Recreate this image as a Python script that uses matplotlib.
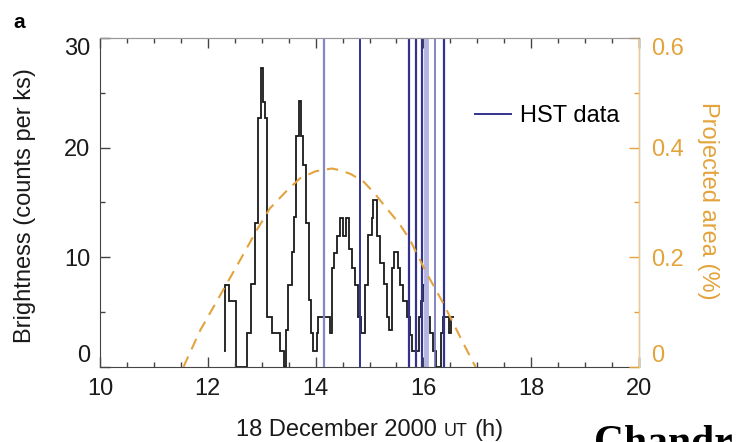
import matplotlib
matplotlib.use("Agg")
import matplotlib.pyplot as plt
from matplotlib.lines import Line2D
from matplotlib.ticker import MultipleLocator, FixedLocator
from matplotlib.offsetbox import TextArea, HPacker, AnchoredOffsetbox

plt.rcParams['font.family'] = ['Liberation Sans', 'DejaVu Sans']

# Chandra X-ray light curve: bin edges (h UT) and brightness (counts per ks)
bin_edges = [12.30, 12.32, 12.40, 12.52, 12.72, 12.81, 12.87, 12.94, 12.98, 13.03,
             13.06, 13.10, 13.19, 13.34, 13.42, 13.45, 13.48, 13.56, 13.59, 13.64,
             13.69, 13.73, 13.77, 13.83, 13.87, 13.92, 13.96, 14.02, 14.05, 14.27,
             14.30, 14.34, 14.40, 14.45, 14.50, 14.57, 14.62, 14.67, 14.73, 14.79,
             14.85, 14.92, 14.98, 15.04, 15.07, 15.13, 15.19, 15.26, 15.32, 15.37,
             15.42, 15.46, 15.52, 15.57, 15.63, 15.69, 15.75, 15.78, 15.91, 15.96,
             16.00, 16.06, 16.12, 16.18, 16.24, 16.33, 16.37, 16.48, 16.52, 16.56]
brightness = [1.5, 7.5, 6.0, 0, 3.1, 7.6, 13.1, 22.7, 27.3, 24.2,
              22.7, 4.6, 3.1, 1.5, 0, 3.4, 7.5, 10.5, 13.7, 21.1,
              24.3, 21.1, 18.4, 13.1, 6.1, 3.1, 1.5, 3.1, 4.6, 3.1,
              9.0, 10.4, 11.9, 13.6, 11.9, 13.6, 10.8, 9.0, 7.5, 4.6,
              3.1, 7.5, 12.0, 13.6, 15.2, 11.9, 9.5, 7.6, 4.6, 3.4,
              9.0, 10.5, 9.0, 7.5, 6.0, 4.6, 2.9, 1.5, 4.6, 6.0,
              7.5, 4.6, 3.1, 1.5, 0, 3.1, 4.6, 3.1, 4.6]

# projected area of the auroral region (%)
area_t = [11.55, 11.58, 11.86, 12.23, 12.60, 12.91, 13.15, 13.45, 13.71, 14.00,
          14.30, 14.45, 14.65, 14.89, 15.10, 15.32, 15.55, 15.75, 16.06, 16.37,
          16.68, 16.93, 16.97]
area_pct = [0, 0.007, 0.067, 0.131, 0.195, 0.250, 0.289, 0.320, 0.344, 0.357,
            0.362, 0.359, 0.352, 0.338, 0.316, 0.289, 0.262, 0.232, 0.171, 0.116,
            0.055, 0.007, 0]

# times of HST observations (h UT)
hst_times = [14.16, 14.82, 15.74, 15.86, 15.98, 16.04, 16.22, 16.39]

orange = '#e3a33c'
navy = '#33338f'
hst_colors = ['#8686c6', navy, navy, navy, navy, '#b4b4e2', '#7070b8', navy]
hst_widths = [1.6, 1.4, 1.6, 1.6, 1.6, 3.5, 1.2, 1.6]

fig = plt.figure(figsize=(7.36, 4.42), dpi=100)
ax = fig.add_axes([100/736, 75/442, 539/736, 329/442])
ax2 = ax.twinx()

ax.stairs(brightness, bin_edges, baseline=None, color='#1a1a1a', lw=1.3)
for t, c, w in zip(hst_times, hst_colors, hst_widths):
    ax.axvline(t, color=c, lw=w)

ax2.plot(area_t, area_pct, color=orange, lw=1.5, dashes=(5.5, 3.8))

ax.set_xlim(10, 20)
ax.set_ylim(0, 30)
ax2.set_ylim(0, 0.6)

ax.xaxis.set_major_locator(MultipleLocator(2))
ax.xaxis.set_minor_locator(MultipleLocator(0.5))
ax.yaxis.set_major_locator(FixedLocator([0, 10, 20, 30]))
ax.yaxis.set_minor_locator(MultipleLocator(5))
ax2.yaxis.set_major_locator(FixedLocator([0, 0.2, 0.4, 0.6]))
ax2.yaxis.set_minor_locator(MultipleLocator(0.1))
ax.set_yticklabels(['0', '10', '20', '30'])
ax2.set_yticklabels(['0', '0.2', '0.4', '0.6'])

ax.tick_params(which='both', direction='in', top=True, right=False,
               colors='#444444', labelcolor='#1a1a1a', labelsize=17, width=1)
ax.tick_params(axis='x', which='major', length=7, pad=8)
ax.tick_params(axis='y', which='major', length=7, pad=7)
ax.tick_params(which='minor', length=3.5)
ax2.tick_params(which='both', direction='in', colors=orange, labelcolor=orange,
                labelsize=17, width=1)
ax2.tick_params(which='major', length=7, pad=9)
ax2.tick_params(which='minor', length=3.5)

# end labels kept inside the axis range, as in the original
for a in (ax, ax2):
    labs = a.get_yticklabels()
    labs[0].set_va('bottom')
    labs[-1].set_va('top')

for s in ['left', 'bottom']:
    ax.spines[s].set_color('#444444')
ax.spines['top'].set_color('#999999')
ax2.spines['top'].set_color('#999999')
ax2.spines['right'].set_color('#f0c888')
ax2.spines['left'].set_visible(False)
ax2.spines['bottom'].set_visible(False)

ax.set_ylabel('Brightness (counts per ks)', fontsize=17, color='#1a1a1a')
ax.yaxis.set_label_coords(-0.119, 0.49)
ax2.set_ylabel('Projected area (%)', fontsize=17, color=orange,
               rotation=270, va='bottom')
ax2.yaxis.set_label_coords(1.108, 0.505)

# x label with small-caps "UT"
parts = [TextArea('18 December 2000', textprops=dict(size=17, color='#1a1a1a')),
         TextArea('UT', textprops=dict(size=13, color='#1a1a1a')),
         TextArea('(h)', textprops=dict(size=17, color='#1a1a1a'))]
box = HPacker(children=parts, align='baseline', pad=0, sep=5)
xlab = AnchoredOffsetbox(loc='upper center', child=box, pad=0, borderpad=0,
                         frameon=False, bbox_to_anchor=(0.5, -0.158),
                         bbox_transform=ax.transAxes)
ax.add_artist(xlab)

leg = ax.legend(handles=[Line2D([], [], color=navy, lw=1.4)], labels=['HST data'],
                loc='center left', bbox_to_anchor=(0.657, 0.763), frameon=False,
                fontsize=17, handlelength=1.5, handletextpad=0.4)

fig.text(13/736, 1 - 22/442, 'a', fontsize=15, fontweight='bold', va='center')
fig.text(594/736, -12/442, 'Chandra', family='Liberation Serif', fontsize=30,
         fontweight='bold', va='baseline')

fig.savefig('out.png', dpi=100)
